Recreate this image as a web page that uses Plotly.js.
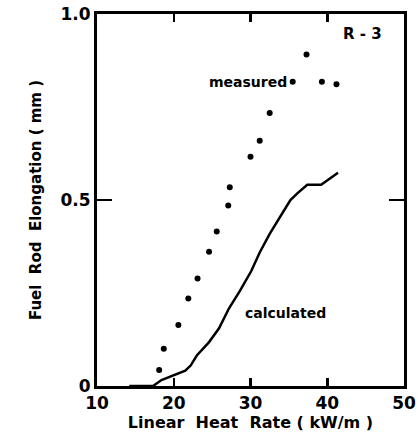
<!DOCTYPE html>
<html>
<head>
<meta charset="utf-8">
<script src="https://cdn.plot.ly/plotly-3.0.1.min.js"></script>
<style>html,body{margin:0;padding:0;background:#fff;}#chart{width:420px;height:433px;}</style>
</head>
<body>
<div id="chart"></div>
<script>
// Measured fuel rod elongation (dots)
var measuredX = [18.1, 18.7, 20.6, 21.9, 23.1, 24.6, 25.6, 27.1, 27.3, 30.0, 31.2, 32.5, 35.5, 37.3, 39.3, 41.2];
var measuredY = [0.043, 0.100, 0.164, 0.235, 0.289, 0.361, 0.415, 0.485, 0.534, 0.616, 0.659, 0.734, 0.818, 0.891, 0.818, 0.811];
// Calculated fuel rod elongation (line)
var calcX = [14.2, 17.3, 18.4, 19.7, 21.5, 22.2, 23.0, 24.6, 25.9, 27.2, 28.6, 30.1, 31.2, 32.5, 33.9, 35.2, 36.1, 37.4, 39.2, 40.3, 41.4];
var calcY = [0, 0, 0.016, 0.027, 0.041, 0.055, 0.082, 0.118, 0.155, 0.209, 0.255, 0.309, 0.359, 0.409, 0.455, 0.500, 0.518, 0.541, 0.541, 0.556, 0.573];
var xTicks = [10, 20, 30, 40, 50];
var xTickText = ['10', '20', '30', '40', '50'];
var yTicks = [0, 0.5, 1.0];
var yTickText = ['0', '0.5', '1.0'];

var FONT = 'DejaVu Sans, Arial, sans-serif';
var traces = [
  {x: calcX, y: calcY, mode: 'lines', type: 'scatter', line: {color: '#000', width: 2.5}, hoverinfo: 'skip'},
  {x: measuredX, y: measuredY, mode: 'markers', type: 'scatter', marker: {color: '#000', size: 6}, hoverinfo: 'skip'}
];
var layout = {
  width: 420, height: 433,
  margin: {l: 97, r: 16, t: 14, b: 47},
  paper_bgcolor: '#fff', plot_bgcolor: '#fff',
  showlegend: false,
  font: {family: FONT, color: '#000', size: 17, weight: 'bold'},
  xaxis: {
    range: [10, 50], tickvals: xTicks, ticktext: xTickText,
    ticks: 'inside', ticklen: 8, tickwidth: 2.5, tickcolor: '#000',
    showline: true, linewidth: 3, linecolor: '#000', mirror: 'allticks',
    showgrid: false, zeroline: false,
    tickfont: {family: FONT, size: 17, color: '#000', weight: 'bold'},
    title: {text: 'Linear  Heat  Rate ( kW/m )', font: {family: FONT, size: 16, color: '#000', weight: 'bold'}, standoff: 4}
  },
  yaxis: {
    range: [0, 1.0], tickvals: yTicks, ticktext: yTickText,
    ticks: 'inside', ticklen: 15, tickwidth: 2.5, tickcolor: '#000',
    showline: true, linewidth: 3, linecolor: '#000', mirror: 'allticks',
    showgrid: false, zeroline: false,
    tickfont: {family: FONT, size: 17, color: '#000', weight: 'bold'},
    title: {text: 'Fuel  Rod  Elongation ( mm )', font: {family: FONT, size: 15, color: '#000', weight: 'bold'}, standoff: 16}
  },
  annotations: [
    {x: 0.935, y: 0.975, xref: 'paper', yref: 'paper', xanchor: 'right', yanchor: 'top', text: 'R - 3', showarrow: false, font: {family: FONT, size: 15, color: '#000', weight: 'bold'}},
    {x: 35.0, y: 0.818, xref: 'x', yref: 'y', xanchor: 'right', yanchor: 'middle', text: 'measured', showarrow: false, font: {family: FONT, size: 14, color: '#000', weight: 'bold'}},
    {x: 34.6, y: 0.197, xref: 'x', yref: 'y', xanchor: 'center', yanchor: 'middle', text: 'calculated', showarrow: false, font: {family: FONT, size: 14, color: '#000', weight: 'bold'}}
  ]
};
Plotly.newPlot('chart', traces, layout, {staticPlot: true, displayModeBar: false});
</script>
</body>
</html>
